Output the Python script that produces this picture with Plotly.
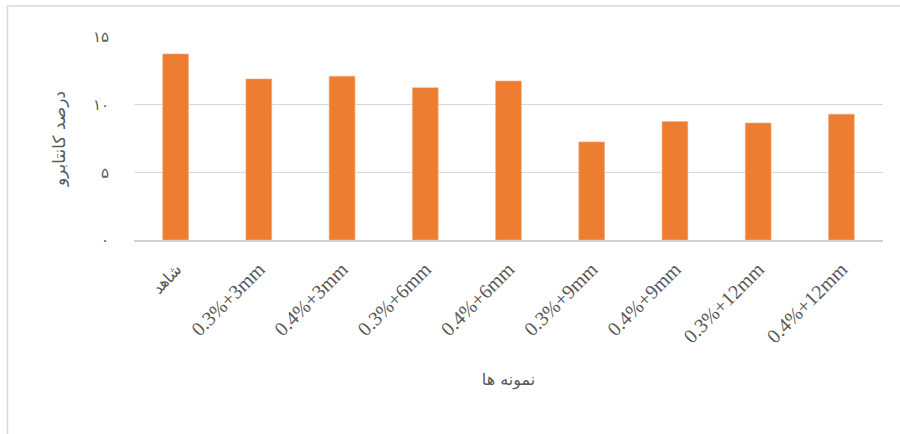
import plotly.graph_objects as go

categories = ["شاهد", "0.3%+3mm", "0.4%+3mm", "0.3%+6mm", "0.4%+6mm",
              "0.3%+9mm", "0.4%+9mm", "0.3%+12mm", "0.4%+12mm"]
values = [13.75, 11.9, 12.1, 11.25, 11.75, 7.25, 8.75, 8.65, 9.3]
y_tick_vals = [0, 5, 10, 15]
y_tick_text = ["۰", "۵", "۱۰", "۱۵"]
y_title = "درصد کانتابرو"
x_title = "نمونه ها"

W, H = 900, 434
L, R, T, B = 134, 17, 37, 194
pw, ph = W - L - R, H - T - B

def px_x(p):
    return (p - L) / pw

def px_y(p):
    return (H - B - p) / ph

x_tick_text = [
    f"<span style='font-size:16px'>{c}</span>" if not c[0].isdigit() else c
    for c in categories
]

fig = go.Figure(go.Bar(
    x=categories, y=values,
    marker=dict(color="#ed7d31", line=dict(color="#f4b183", width=0.6)),
))

fig.update_layout(
    width=W, height=H,
    margin=dict(l=L, r=R, t=T, b=B),
    paper_bgcolor="white", plot_bgcolor="white",
    bargap=0.69,
    showlegend=False,
    font=dict(family="Liberation Serif, DejaVu Sans, serif", color="#595959"),
    xaxis=dict(
        type="category", tickangle=-45, showgrid=False,
        tickvals=categories, ticktext=x_tick_text,
        showline=True, linecolor="#d0d0d0", linewidth=1.5,
        ticks="", tickfont=dict(size=20, color="#595959", family="Liberation Serif"),
        ticklabelstandoff=8,
        title=dict(text=x_title, font=dict(size=16, family="DejaVu Sans", color="#595959"), standoff=28),
    ),
    yaxis=dict(
        range=[0, 15], tickvals=y_tick_vals, ticktext=y_tick_text,
        showgrid=True, gridcolor="#d9d9d9", gridwidth=1.2,
        zeroline=False, showline=False, ticks="",
        tickfont=dict(size=15, color="#595959", family="DejaVu Sans"),
        ticklabelstandoff=24,
        title=dict(text=y_title, font=dict(size=17, family="DejaVu Sans", color="#595959"), standoff=22),
    ),
    shapes=[dict(
        type="rect", xref="paper", yref="paper",
        x0=px_x(7.5), x1=px_x(905), y0=px_y(440), y1=px_y(6),
        line=dict(color="#d9d9d9", width=1.5), fillcolor="rgba(0,0,0,0)",
        layer="below",
    )],
)

fig.write_html("out.html")
